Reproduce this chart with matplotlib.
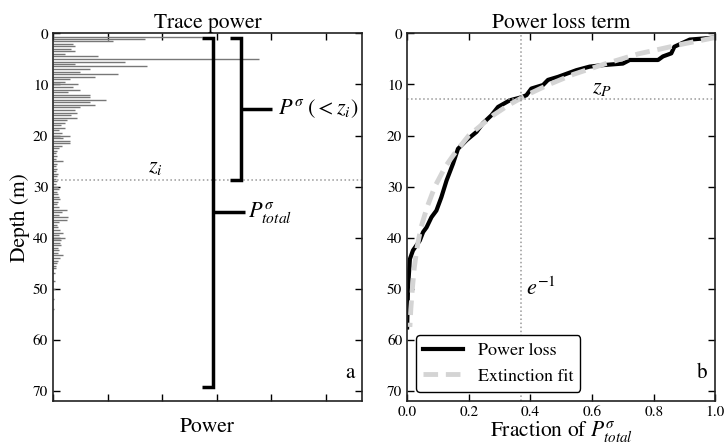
import numpy as np
import matplotlib
matplotlib.use('Agg')
import matplotlib.pyplot as plt

plt.rcParams['font.family'] = 'STIXGeneral'
plt.rcParams['mathtext.fontset'] = 'stix'

# Trace power profile (depth in m, power in arbitrary units)
trace_depth = [0.75, 1.0, 1.5, 2.0, 2.5, 3.0, 3.5, 4.0, 4.5, 5.1, 5.5, 6.0, 6.3, 7.0, 7.5,
               8.0, 8.5, 9.0, 9.5, 10.0, 10.5, 11.0, 11.5, 12.0, 12.5, 13.0, 13.5, 14.0,
               14.5, 15.0, 15.5, 16.0, 16.5, 17.0, 17.5, 18.0, 18.5, 19.0, 19.5, 20.0,
               20.5, 21.0, 21.5, 22.0, 22.5, 23.0, 23.5, 24.0, 24.5, 25.0, 25.5, 26.0,
               26.5, 27.0, 27.5, 28.0, 28.5, 29.0, 29.5, 30.0, 30.5, 31.0, 31.5, 32.0,
               32.5, 33.0, 33.5, 34.0, 34.5, 35.0, 35.5, 36.0, 36.5, 37.0, 37.5, 38.0,
               38.5, 39.0, 39.5, 40.0, 40.5, 41.0, 41.5, 42.0, 42.5, 43.0, 43.5, 44.0,
               44.5, 45.0, 45.5, 46.0, 47.0, 48.5, 50.0, 52.0, 54.0]
trace_power = [2.73, 1.69, 1.10, 0.37, 0.40, 0.33, 0.40, 0.22, 0.83, 3.78, 1.32, 0.40,
               1.72, 0.68, 0.50, 1.19, 0.77, 0.31, 0.22, 0.46, 0.37, 0.50, 0.28, 0.68,
               0.68, 0.97, 0.68, 0.77, 0.50, 0.40, 0.44, 0.33, 0.44, 0.26, 0.22, 0.15,
               0.22, 0.11, 0.17, 0.31, 0.18, 0.31, 0.31, 0.17, 0.11, 0.07, 0.06, 0.07,
               0.06, 0.18, 0.07, 0.06, 0.07, 0.06, 0.09, 0.07, 0.06, 0.07, 0.06, 0.09,
               0.11, 0.07, 0.09, 0.11, 0.13, 0.09, 0.07, 0.11, 0.26, 0.17, 0.11, 0.28,
               0.26, 0.11, 0.07, 0.09, 0.13, 0.18, 0.11, 0.22, 0.15, 0.13, 0.15, 0.09,
               0.11, 0.09, 0.18, 0.13, 0.09, 0.07, 0.06, 0.06, 0.04, 0.04, 0.04, 0.02,
               0.02]

z_i = 28.7

# Fraction of total power remaining with depth
loss_frac = [1.0, 0.917, 0.867, 0.857, 0.83, 0.814, 0.722, 0.70, 0.636, 0.592, 0.549,
             0.49, 0.457, 0.441, 0.403, 0.387, 0.371, 0.333, 0.295, 0.274, 0.246,
             0.225, 0.193, 0.165, 0.149, 0.128, 0.111, 0.095, 0.079, 0.063, 0.052,
             0.041, 0.019, 0.009, 0.003, 0.0]
loss_depth = [0.8, 1.2, 2.6, 3.9, 4.5, 5.2, 5.2, 5.9, 6.2, 6.5, 7.2, 8.5, 9.1, 10.1,
              10.8, 12.1, 12.5, 13.1, 14.4, 16.0, 17.6, 19.3, 20.9, 22.6, 25.5, 28.8,
              32.1, 34.7, 36.0, 38.0, 38.9, 40.6, 42.5, 44.2, 49.7, 57.6]

fit_frac = [1.0, 0.90, 0.75, 0.64, 0.54, 0.46, 0.39, 0.33, 0.28, 0.24, 0.20, 0.16,
            0.125, 0.09, 0.065, 0.045, 0.032, 0.023, 0.017, 0.012, 0.009]
fit_depth = [0.8, 2, 4, 6, 8, 10, 12, 14, 16, 18, 20, 23, 26, 30, 34, 38, 42, 46, 50,
             54, 57.5]

z_p = 12.9
e_inv = np.exp(-1)

fig = plt.figure(figsize=(7.27, 4.46), dpi=100)
ax1 = fig.add_axes([0.073, 0.101, 0.425, 0.824])
ax2 = fig.add_axes([0.560, 0.101, 0.424, 0.824])

for ax in (ax1, ax2):
    ax.tick_params(direction='in', top=True, right=True, length=5, width=1,
                   labelsize=11)
    for s in ax.spines.values():
        s.set_linewidth(1.2)
        s.set_color('#222222')
    ax.set_ylim(72, 0)
    ax.set_yticks(range(0, 71, 10))

# panel a: trace power with brackets
ax1.hlines(trace_depth, 0, trace_power, color='#777777', lw=1.0)
ax1.set_xlim(0, 5.67)
ax1.set_xticks(range(6))
ax1.set_xticklabels([])
ax1.axhline(z_i, color='#999999', ls=':', lw=1.1)
ax1.text(1.87, z_i - 0.6, '$z_i$', fontsize=16, ha='center', va='bottom')

bk = dict(color='black', lw=2.5, solid_capstyle='butt', solid_joinstyle='miter')
ax1.plot([2.73, 2.94, 2.94, 2.73], [0.8, 0.8, 69.2, 69.2], **bk)
ax1.plot([2.94, 3.52], [35, 35], **bk)
ax1.plot([3.25, 3.44, 3.44, 3.25], [0.8, 0.8, z_i, z_i], **bk)
ax1.plot([3.44, 4.02], [14.8, 14.8], **bk)
ax1.text(4.12, 14.8, r'$P^{\sigma}\;(<z_i)$', fontsize=16, va='center')
ax1.text(3.58, 35, r'$P^{\sigma}_{total}$', fontsize=16, va='center')
ax1.text(0.975, 0.05, 'a', transform=ax1.transAxes, fontsize=15,
         ha='right', va='bottom')

ax1.set_title('Trace power', fontsize=15.5, pad=4)
ax1.set_ylabel('Depth (m)', fontsize=15.5, labelpad=2)
ax1.set_xlabel('Power', fontsize=15.5, labelpad=8)

# panel b: power loss term and exponential fit
ax2.plot(loss_frac, loss_depth, color='black', lw=3, label='Power loss')
ax2.plot(fit_frac, fit_depth, color='#d4d4d4', lw=3.5, ls=(0, (3, 1.6)),
         label='Extinction fit')
ax2.axvline(e_inv, color='#999999', ls=':', lw=1.1)
ax2.axhline(z_p, color='#999999', ls=':', lw=1.1)
ax2.text(0.60, z_p - 0.3, '$z_P$', fontsize=16, ha='left', va='bottom')
ax2.text(0.385, 50, '$e^{-1}$', fontsize=16, ha='left', va='center')
ax2.text(0.975, 0.05, 'b', transform=ax2.transAxes, fontsize=15,
         ha='right', va='bottom')
ax2.set_xlim(0, 1)
ax2.set_xticks(np.arange(0, 1.01, 0.2))
ax2.set_xticklabels(['0.0', '0.2', '0.4', '0.6', '0.8', '1.0'])
ax2.set_title('Power loss term', fontsize=15.5, pad=4)
ax2.set_xlabel(r'Fraction of $P^{\sigma}_{total}$', fontsize=15.5, labelpad=0)
leg = ax2.legend(loc='lower left', fontsize=13, handlelength=2.2,
                 fancybox=True, framealpha=1)
leg.get_frame().set_edgecolor('black')
leg.get_frame().set_linewidth(1.0)

fig.savefig('out.png', dpi=100)
